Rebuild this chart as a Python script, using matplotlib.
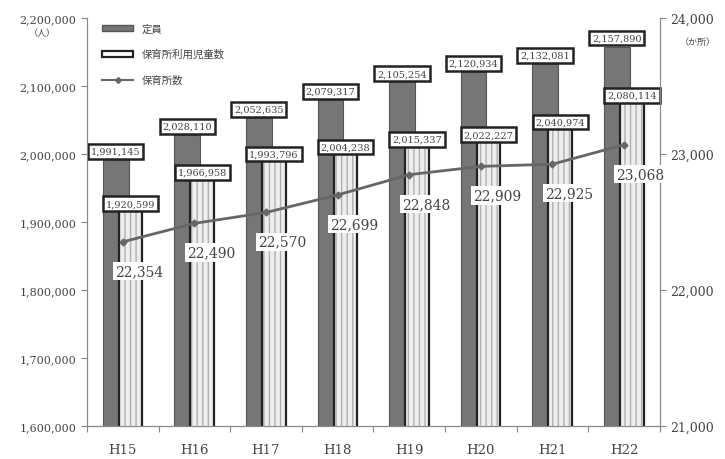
import numpy as np
import matplotlib
matplotlib.use("Agg")
import matplotlib.pyplot as plt
from matplotlib.patches import Patch
from matplotlib.lines import Line2D

plt.rcParams['font.family'] = ['DejaVu Serif', 'Noto Sans CJK JP', 'DejaVu Sans']

years = ["H15", "H16", "H17", "H18", "H19", "H20", "H21", "H22"]
teiin = [1991145, 2028110, 2052635, 2079317, 2105254, 2120934, 2132081, 2157890]
jido = [1920599, 1966958, 1993796, 2004238, 2015337, 2022227, 2040974, 2080114]
hoikusho = [22354, 22490, 22570, 22699, 22848, 22909, 22925, 23068]

txt = '#444444'
x = np.arange(len(years))

fig = plt.figure(figsize=(7.25, 4.6), dpi=100)
ax = fig.add_axes([0.12, 0.0717, 0.79, 0.887])
ax2 = ax.twinx()

# bars
ax.bar(x - 0.1, teiin, width=0.36, color='#767676', edgecolor='#555555', linewidth=0.8, zorder=2)
ax.bar(x + 0.11, jido, width=0.33, color='#eeeeee', edgecolor='#b0b0b0', hatch='|||', linewidth=0, zorder=3)
ax.bar(x + 0.11, jido, width=0.33, color='none', edgecolor='#222222', linewidth=1.6, zorder=4)

box = dict(boxstyle='square,pad=0.3', fc='white', ec='#222222', lw=1.8)
for i in range(len(years)):
    ax.annotate(f"{teiin[i]:,}", (x[i] - 0.1, teiin[i]), xytext=(0, 3), textcoords='offset points',
                ha='center', va='bottom', fontsize=7, color=txt, bbox=box, zorder=5)
    ax.annotate(f"{jido[i]:,}", (x[i] + 0.11, jido[i]), xytext=(0, 3), textcoords='offset points',
                ha='center', va='center', fontsize=7, color=txt, bbox=box, zorder=5)

ax.set_ylim(1600000, 2200000)
ax.set_yticks(np.arange(1600000, 2200001, 100000))
ax.set_yticklabels([f"{v:,}" for v in range(1600000, 2200001, 100000)])
ax.set_xlim(-0.5, 7.5)
ax.set_xticks(np.arange(-0.5, 7.6, 1))
ax.set_xticklabels([])
ax.set_xticks(x, minor=True)
ax.set_xticklabels(years, minor=True, fontsize=9.5, color=txt)
ax.tick_params(axis='x', which='minor', length=0, pad=12)
ax.tick_params(axis='x', which='major', length=4, color='#888888')
ax.tick_params(axis='y', labelsize=8, labelcolor=txt, length=4, color='#888888')

# line
ax2.plot(x, hoikusho, color='#666666', lw=2, marker='D', ms=3.5, zorder=6)
for i in range(len(years)):
    ax2.annotate(f"{hoikusho[i]:,}", (x[i], hoikusho[i]), xytext=(12, -21), textcoords='offset points',
                 ha='center', va='center', fontsize=10, color=txt,
                 bbox=dict(boxstyle='square,pad=0.15', fc='white', ec='none'), zorder=7)
ax2.set_ylim(21000, 24000)
ax2.set_yticks([21000, 22000, 23000, 24000])
ax2.set_yticklabels([f"{v:,}" for v in [21000, 22000, 23000, 24000]])
ax2.tick_params(axis='y', labelsize=9, labelcolor=txt, length=4, color='#888888')

for a in (ax, ax2):
    a.spines['top'].set_visible(False)
    for s in ('left', 'right', 'bottom'):
        a.spines[s].set_color('#888888')

fig.text(0.058, 0.928, "（人）", fontsize=6.5, color=txt, ha='center', va='center')
fig.text(0.963, 0.908, "（か所）", fontsize=6.5, color=txt, ha='center', va='center')

handles = [Patch(fc='#767676', ec='#555555'),
           Patch(fc='white', ec='#222222', lw=1.6),
           Line2D([], [], color='#666666', lw=1.5, marker='D', ms=3)]
ax.legend(handles, ["定員", "保育所利用児童数", "保育所数"], loc='upper left',
          bbox_to_anchor=(0.01, 1.01), frameon=False, fontsize=7.5, labelcolor=txt,
          handlelength=3.0, handleheight=0.5, labelspacing=1.5)

fig.savefig("out.png", dpi=100)
